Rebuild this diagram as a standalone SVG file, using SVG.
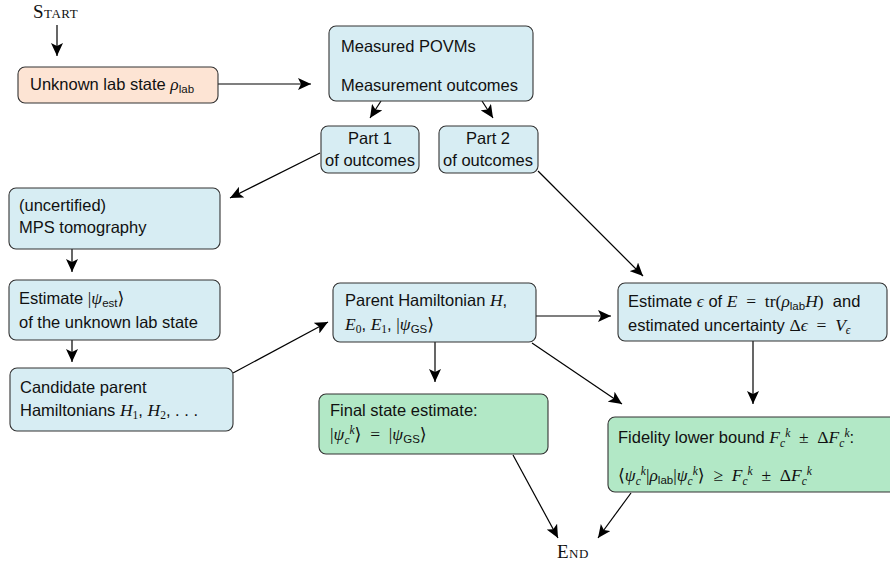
<svg xmlns="http://www.w3.org/2000/svg" width="890" height="562" viewBox="0 0 890 562">
<style>
.box{stroke:#333;stroke-width:1.1}
.blue{fill:#d7edf3}
.peach{fill:#fde4d4}
.green{fill:#b2e8c6}
.t{font-family:"Liberation Sans","DejaVu Sans",sans-serif;font-size:16.5px;fill:#111}
.m{font-family:"Liberation Serif","DejaVu Serif",serif;font-style:italic;font-size:17.5px}
.r{font-family:"Liberation Serif","DejaVu Serif",serif;font-style:normal;font-size:17.5px}
.s{font-size:11.5px}
.sc{font-family:"Liberation Serif","DejaVu Serif",serif;font-size:19px;font-variant:small-caps;letter-spacing:0.5px;fill:#111}
.c{fill:none;stroke:#000;stroke-width:1.2;marker-end:url(#ah)}
</style>
<defs>
<marker id="ah" markerUnits="userSpaceOnUse" markerWidth="14" markerHeight="12" refX="13" refY="6" orient="auto">
<path d="M0,0 L13,6 L0,12 L3,6 Z" fill="#000"/>
</marker>
</defs>
<rect width="890" height="562" fill="#fff"/>
<g id="connectors">
<line class="c" x1="57" y1="25" x2="57" y2="56"/>
<line class="c" x1="218" y1="84" x2="311" y2="84"/>
<line class="c" x1="381" y1="101" x2="370" y2="118"/>
<line class="c" x1="482" y1="101" x2="493" y2="118"/>
<line class="c" x1="320" y1="153" x2="230" y2="198"/>
<line class="c" x1="538" y1="171" x2="643" y2="276"/>
<line class="c" x1="72" y1="249" x2="72" y2="272"/>
<line class="c" x1="72" y1="340" x2="72" y2="362"/>
<line class="c" x1="233" y1="373" x2="328" y2="322"/>
<line class="c" x1="536" y1="316" x2="611" y2="316"/>
<line class="c" x1="435" y1="342" x2="435" y2="382"/>
<line class="c" x1="532" y1="343" x2="622" y2="404"/>
<line class="c" x1="753" y1="341" x2="753" y2="404"/>
<line class="c" x1="513" y1="455" x2="558" y2="538"/>
<line class="c" x1="631" y1="493" x2="598" y2="538"/>
</g>
<g id="start"><text class="sc" x="33" y="18">Start</text></g>
<g id="end"><text class="sc" x="557" y="558">End</text></g>
<g id="lab">
<rect class="box peach" x="18" y="67" width="200" height="36" rx="7"/>
<text class="t" x="30" y="90">Unknown lab state <tspan class="m">ρ</tspan><tspan class="s" dy="3">lab</tspan></text>
</g>
<g id="povm">
<rect class="box blue" x="329" y="26" width="204" height="75" rx="7"/>
<text class="t" x="341" y="52">Measured POVMs</text>
<text class="t" x="341" y="91">Measurement outcomes</text>
</g>
<g id="part1">
<rect class="box blue" x="321" y="126" width="98" height="47" rx="7"/>
<text class="t" x="370" y="144" text-anchor="middle">Part 1</text>
<text class="t" x="370" y="166" text-anchor="middle">of outcomes</text>
</g>
<g id="part2">
<rect class="box blue" x="439" y="126" width="99" height="47" rx="7"/>
<text class="t" x="488" y="144" text-anchor="middle">Part 2</text>
<text class="t" x="488" y="166" text-anchor="middle">of outcomes</text>
</g>
<g id="mps">
<rect class="box blue" x="9" y="188" width="211" height="61" rx="7"/>
<text class="t" x="19" y="211">(uncertified)</text>
<text class="t" x="19" y="233">MPS tomography</text>
</g>
<g id="est">
<rect class="box blue" x="9" y="280" width="211" height="60" rx="7"/>
<text class="t" x="19" y="304">Estimate <tspan class="r">|</tspan><tspan class="m">ψ</tspan><tspan class="s" dy="3">est</tspan><tspan class="r" dy="-3">⟩</tspan></text>
<text class="t" x="19" y="328">of the unknown lab state</text>
</g>
<g id="cand">
<rect class="box blue" x="10" y="368" width="223" height="63" rx="7"/>
<text class="t" x="20" y="393">Candidate parent</text>
<text class="t" x="20" y="416">Hamiltonians <tspan class="m">H</tspan><tspan class="r s" dy="3">1</tspan><tspan dy="-3">, </tspan><tspan class="m">H</tspan><tspan class="r s" dy="3">2</tspan><tspan dy="-3">, . . .</tspan></text>
</g>
<g id="parent">
<rect class="box blue" x="333" y="283" width="203" height="59" rx="7"/>
<text class="t" x="345" y="306">Parent Hamiltonian <tspan class="m">H</tspan>,</text>
<text class="t" x="345" y="330"><tspan class="m">E</tspan><tspan class="r s" dy="3">0</tspan><tspan dy="-3">, </tspan><tspan class="m">E</tspan><tspan class="r s" dy="3">1</tspan><tspan dy="-3">, </tspan><tspan class="r">|</tspan><tspan class="m">ψ</tspan><tspan class="s" dy="3">GS</tspan><tspan class="r" dy="-3">⟩</tspan></text>
</g>
<g id="energy">
<rect class="box blue" x="618" y="283" width="269" height="58" rx="7"/>
<text class="t" x="628" y="307">Estimate <tspan class="m">ϵ</tspan> of <tspan class="m">E</tspan><tspan class="r">&#160; = &#160;tr(</tspan><tspan class="m">ρ</tspan><tspan class="s" dy="3">lab</tspan><tspan class="m" dy="-3">H</tspan><tspan class="r">)</tspan>&#160; and</text>
<text class="t" x="628" y="331">estimated uncertainty <tspan class="r">Δ</tspan><tspan class="m">ϵ</tspan><tspan class="r">&#160; = &#160;</tspan><tspan class="m">V</tspan><tspan class="m s" dy="3">ϵ</tspan></text>
</g>
<g id="final">
<rect class="box green" x="319" y="394" width="229" height="60" rx="7"/>
<text class="t" x="330" y="416">Final state estimate:</text>
<text class="t" x="330" y="440"><tspan class="r">|</tspan><tspan class="m">ψ</tspan><tspan class="m s" dy="4">c</tspan><tspan class="m s" dy="-10">k</tspan><tspan class="r" dy="6">⟩&#160; = &#160;|</tspan><tspan class="m">ψ</tspan><tspan class="s" dy="3">GS</tspan><tspan class="r" dy="-3">⟩</tspan></text>
</g>
<g id="fidelity">
<rect class="box green" x="608" y="417" width="290" height="75" rx="7"/>
<text class="t" x="618" y="443">Fidelity lower bound <tspan class="m">F</tspan><tspan class="m s" dy="4">c</tspan><tspan class="m s" dy="-10">k</tspan><tspan class="r" dy="6">&#160; ± &#160;Δ</tspan><tspan class="m">F</tspan><tspan class="m s" dy="4">c</tspan><tspan class="m s" dy="-10">k</tspan><tspan dy="6">:</tspan></text>
<text class="t" x="618" y="481"><tspan class="r">⟨</tspan><tspan class="m">ψ</tspan><tspan class="m s" dy="4">c</tspan><tspan class="m s" dy="-10">k</tspan><tspan class="r" dy="6">|</tspan><tspan class="m">ρ</tspan><tspan class="s" dy="3">lab</tspan><tspan class="r" dy="-3">|</tspan><tspan class="m">ψ</tspan><tspan class="m s" dy="4">c</tspan><tspan class="m s" dy="-10">k</tspan><tspan class="r" dy="6">⟩&#160; ≥ &#160;</tspan><tspan class="m">F</tspan><tspan class="m s" dy="4">c</tspan><tspan class="m s" dy="-10">k</tspan><tspan class="r" dy="6">&#160; ± &#160;Δ</tspan><tspan class="m">F</tspan><tspan class="m s" dy="4">c</tspan><tspan class="m s" dy="-10">k</tspan></text>
</g>
</svg>
